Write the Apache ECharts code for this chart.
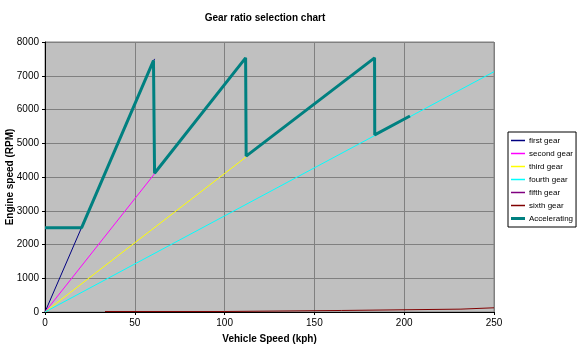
<!DOCTYPE html>
<html>
<head>
<meta charset="utf-8">
<script src="https://cdn.jsdelivr.net/npm/echarts@6/dist/echarts.min.js"></script>
<style>
  html, body { margin: 0; padding: 0; background: #fff; }
  #chart { width: 577px; height: 351px; }
</style>
</head>
<body>
<div id="chart"></div>
<script>
// series points: [kph, rpm]
var firstGear = [[0, 0], [61, 7500]];
var secondGear = [[0, 0], [111.7, 7500]];
var thirdGear = [[0, 0], [183.5, 7530]];
var fourthGear = [[0, 0], [250, 7120]];
var fifthGear = [];
var sixthGear = [[33.4, 15], [100, 15], [100, 45], [165, 45], [165, 85], [231.6, 85], [231.6, 125], [250, 125]];
var accelerating = [[0, 2500], [20.4, 2500], [60.4, 7450], [61, 4110],
                    [111.7, 7530], [112, 4620], [183.5, 7530], [183.6, 5250], [203.2, 5807]];

var seriesNames = ['first gear', 'second gear', 'third gear', 'fourth gear',
                   'fifth gear', 'sixth gear', 'Accelerating'];
var seriesColors = ['#000080', '#ff00ff', '#ffff00', '#00ffff', '#800080', '#800000', '#008080'];
var seriesData = [firstGear, secondGear, thirdGear, fourthGear, fifthGear, sixthGear, accelerating];

var font = 'Liberation Sans, Arial, sans-serif';

var series = [];
for (var i = 0; i < seriesNames.length; i++) {
    series.push({
        name: seriesNames[i],
        type: 'line',
        data: seriesData[i],
        showSymbol: false,
        animation: false,
        lineStyle: { color: seriesColors[i], width: i == 6 ? 3 : 1 },
        itemStyle: { color: seriesColors[i] },
        z: i == 6 ? 5 : 3
    });
}

var legendData = [];
for (var i = 0; i < seriesNames.length; i++) {
    legendData.push({
        name: seriesNames[i],
        icon: i == 6 ? 'path://M0,0L14,0L14,3L0,3Z' : 'path://M0,0L14,0L14,1.5L0,1.5Z'
    });
}

var option = {
    backgroundColor: '#ffffff',
    title: {
        text: 'Gear ratio selection chart',
        left: 260,
        textAlign: 'center',
        top: 8,
        textStyle: { fontFamily: font, fontSize: 10, fontWeight: 'bold', color: '#000' }
    },
    legend: {
        orient: 'vertical',
        left: 508,
        top: 132,
        padding: [3, 3, 3, 3],
        backgroundColor: '#fff',
        borderColor: '#000',
        borderWidth: 1,
        borderRadius: 0,
        itemWidth: 14,
        itemHeight: 3,
        itemGap: 2,
        selectedMode: false,
        data: legendData,
        textStyle: { fontFamily: font, fontSize: 8, color: '#000', lineHeight: 11, padding: [0, 0, 0, -1] }
    },
    grid: {
        left: 45,
        right: 83,
        top: 42,
        bottom: 39,
        outerBoundsMode: 'none',
        containLabel: false,
        show: true,
        backgroundColor: '#c0c0c0',
        borderColor: '#808080',
        borderWidth: 1
    },
    xAxis: {
        type: 'value',
        min: 0,
        max: 250,
        interval: 50,
        name: 'Vehicle Speed (kph)',
        nameLocation: 'middle',
        nameGap: 22,
        nameMoveOverlap: false,
        nameTextStyle: { fontFamily: font, fontSize: 10, fontWeight: 'bold', color: '#000' },
        axisLine: { show: true, lineStyle: { color: '#000', width: 1 } },
        axisTick: { show: true, length: 3, lineStyle: { color: '#000' } },
        axisLabel: { fontFamily: font, fontSize: 10, color: '#000', margin: 6 },
        splitLine: { show: true, lineStyle: { color: '#808080', width: 1 } }
    },
    yAxis: {
        type: 'value',
        min: 0,
        max: 8000,
        interval: 1000,
        name: 'Engine speed (RPM)',
        nameLocation: 'middle',
        nameGap: 30,
        nameMoveOverlap: false,
        nameTextStyle: { fontFamily: font, fontSize: 10, fontWeight: 'bold', color: '#000' },
        axisLine: { show: true, lineStyle: { color: '#000', width: 1 } },
        axisTick: { show: true, length: 3, lineStyle: { color: '#000' } },
        axisLabel: {
            fontFamily: font, fontSize: 10, color: '#000', margin: 6,
            formatter: function (v) { return String(v); }
        },
        splitLine: { show: true, lineStyle: { color: '#808080', width: 1 } }
    },
    series: series
};

var myChart = echarts.init(document.getElementById('chart'));
myChart.setOption(option);
</script>
</body>
</html>
